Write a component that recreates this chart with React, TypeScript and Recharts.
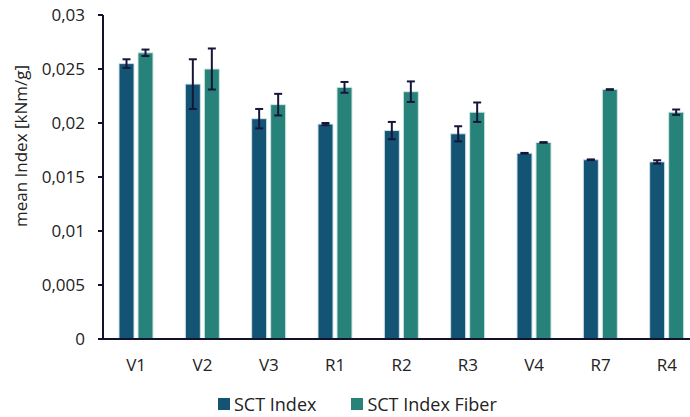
import React from 'react';
import { BarChart, Bar, XAxis, YAxis, ErrorBar, Legend } from 'recharts';

const categories = ['V1', 'V2', 'V3', 'R1', 'R2', 'R3', 'V4', 'R7', 'R4'];
const sctIndex = [0.0255, 0.0236, 0.0204, 0.0199, 0.0193, 0.019, 0.0172, 0.0166, 0.0164];
const sctIndexErr = [0.0004, 0.0023, 0.0009, 0.0001, 0.0008, 0.0007, 0.00003, 0.00003, 0.00015];
const sctIndexFiber = [0.0265, 0.025, 0.0217, 0.0233, 0.0229, 0.021, 0.0182, 0.0231, 0.021];
const sctIndexFiberErr = [0.0003, 0.0019, 0.001, 0.0005, 0.00095, 0.0009, 0.00003, 0.00003, 0.00025];
const yTicks = [0, 0.005, 0.01, 0.015, 0.02, 0.025, 0.03];

const seriesNames = ['SCT Index', 'SCT Index Fiber'];
const colors = ['#135474', '#27837A'];

const data = categories.map((c, i) => ({
  name: c,
  a: sctIndex[i],
  aErr: sctIndexErr[i],
  b: sctIndexFiber[i],
  bErr: sctIndexFiberErr[i],
}));

const FONT = '"Open Sans", sans-serif';
const AXIS = '#12122e';

const renderLegend = () => (
  <div
    style={{
      height: 38,
      display: 'flex',
      alignItems: 'flex-end',
      paddingLeft: 218,
      paddingBottom: 1,
      boxSizing: 'border-box',
      fontFamily: FONT,
      fontSize: 18,
      color: '#222',
    }}
  >
    {seriesNames.map((n, i) => (
      <div key={n} style={{ display: 'flex', alignItems: 'center', marginRight: 35, height: 24 }}>
        <span style={{ display: 'inline-block', width: 12, height: 12, background: colors[i], marginRight: 4 }} />
        <span style={{ lineHeight: '24px', whiteSpace: 'nowrap' }}>{n}</span>
      </div>
    ))}
  </div>
);

const yLabel = (props: any) => {
  const vb = props.viewBox || { x: 0, y: 15, width: 103, height: 324 };
  const cx = vb.x + 20;
  const cy = vb.y + vb.height / 2 - 31;
  return (
    <text
      x={cx}
      y={cy}
      transform={`rotate(-90, ${cx}, ${cy})`}
      textAnchor="middle"
      dominantBaseline="central"
      fontFamily={FONT}
      fontSize={17}
      fill="#222"
    >
      mean Index [kNm/g]
    </text>
  );
};

export default function App() {
  return (
    <div style={{ position: 'absolute', left: 0, top: 0, width: 690, height: 417, overflow: 'hidden', background: '#fff' }}>
      <BarChart
        width={700}
        height={417}
        data={data}
        margin={{ top: 15, right: 0, left: 0, bottom: 0 }}
        barSize={15}
        barGap={4}
      >
        <XAxis
          dataKey="name"
          height={40}
          tickLine={false}
          tickSize={0}
          tickMargin={20}
          axisLine={{ stroke: AXIS, strokeWidth: 2 }}
          tick={{ fontFamily: FONT, fontSize: 17, fill: '#222' }}
        />
        <YAxis
          width={103}
          domain={[0, 0.03]}
          ticks={yTicks}
          interval={0}
          tickFormatter={(v: number) => String(v).replace('.', ',')}
          tickSize={5}
          tickMargin={13}
          tickLine={{ stroke: AXIS, strokeWidth: 2 }}
          axisLine={{ stroke: AXIS, strokeWidth: 2 }}
          tick={{ fontFamily: FONT, fontSize: 17, fill: '#222' }}
          label={{ content: yLabel }}
        />
        <Legend verticalAlign="bottom" height={38} content={renderLegend} />
        <Bar dataKey="a" name={seriesNames[0]} fill={colors[0]} stroke="#cfe0e8" strokeWidth={1} isAnimationActive={false}>
          <ErrorBar dataKey="aErr" width={4} stroke="#16163a" strokeWidth={2} direction="y" />
        </Bar>
        <Bar dataKey="b" name={seriesNames[1]} fill={colors[1]} stroke="#cfe6e2" strokeWidth={1} isAnimationActive={false}>
          <ErrorBar dataKey="bErr" width={4} stroke="#16163a" strokeWidth={2} direction="y" />
        </Bar>
      </BarChart>
    </div>
  );
}
